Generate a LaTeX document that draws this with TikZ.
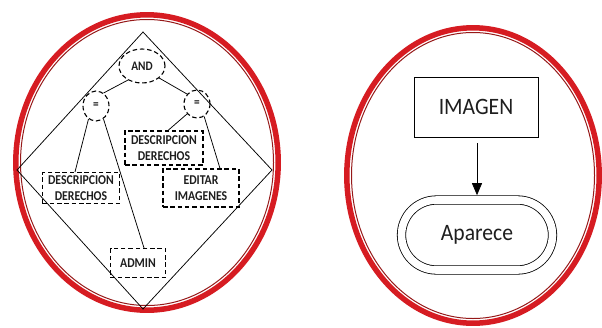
\documentclass[tikz,border=0pt]{standalone}
\usepackage{fontspec}
\setmainfont{Carlito}
\newfontfamily\condfont[FakeStretch=0.87]{Carlito}
\newfontfamily\bigfont[FakeStretch=0.92]{Carlito}
\usetikzlibrary{shapes.geometric,shapes.misc,arrows.meta}
\definecolor{ringred}{RGB}{214,28,34}
\definecolor{ringdark}{RGB}{150,25,25}
\definecolor{ink}{RGB}{30,30,30}
\begin{document}
\begin{tikzpicture}[x=1pt,y=-1pt,
  ringthick/.style={draw=ringred,line width=5.5pt},
  ringthin/.style={draw=ringdark,line width=1pt},
  dsh/.style={dash pattern=on 4.5pt off 2.8pt,line width=1.1pt},
  opnode/.style={draw,ellipse,dsh,inner sep=0pt,text=ink,font=\condfont\bfseries\fontsize{13}{15}\selectfont},
  leafbox/.style={draw,rectangle,dsh,inner sep=0pt,align=center,text=ink,font=\condfont\bfseries\fontsize{13.5}{15.5}\selectfont},
  link/.style={line width=0.75pt},
  bigtext/.style={text=ink,font=\bigfont\fontsize{23.5}{27}\selectfont}
]
\useasboundingbox (0,0) rectangle (602,327);
% rings
\draw[ringthick] (147,162.5) ellipse [x radius=131.2, y radius=147.7];
\draw[ringthin] (147,162.5) ellipse [x radius=126.5, y radius=143];
\draw[ringthick] (473,175.5) ellipse [x radius=126.2, y radius=147.7];
\draw[ringthin] (473,175.5) ellipse [x radius=121.5, y radius=143];
% diamond
\draw[link] (143,32) -- (272,170) -- (143,309) -- (17,170) -- cycle;
% tree nodes
\node[opnode,minimum width=46pt,minimum height=34pt] (and) at (142,66) {AND};
\node[opnode,minimum width=26pt,minimum height=30pt] (eqL) at (96,106) {=};
\node[opnode,minimum width=26pt,minimum height=28pt] (eqR) at (197,104) {=};
\node[leafbox,minimum width=78pt,minimum height=34pt] (descR) at (164,148) {DESCRIPCION\\DERECHOS};
\node[leafbox,minimum width=77pt,minimum height=31pt] (descL) at (81,188) {DESCRIPCION\\DERECHOS};
\node[leafbox,minimum width=76pt,minimum height=38pt] (edit) at (201,188) {EDITAR\\IMAGENES};
\node[leafbox,minimum width=55pt,minimum height=29pt] (admin) at (138,263) {ADMIN};
% tree links
\draw[link] (and.225) -- (eqL.60);
\draw[link] (and.-35) -- (eqR.135);
\draw[link] (eqL.240) -- ([xshift=-6pt]descL.north);
\draw[link] (eqL.-60) -- ([xshift=6pt]admin.north);
\draw[link] (eqR.225) -- ([xshift=4pt]descR.north);
\draw[link] (eqR.-60) -- ([xshift=19pt]edit.north);
% right diagram
\node[draw,rectangle,line width=0.8pt,minimum width=124pt,minimum height=60pt,inner sep=0pt,bigtext] (imagen) at (476,107) {IMAGEN};
\node[draw,rounded rectangle,double,line width=0.8pt,double distance=7.6pt,minimum width=151pt,minimum height=70pt,inner sep=0pt,bigtext] (aparece) at (477,235) {Aparece};
\draw[line width=0.8pt,-{Triangle[width=10pt,length=12pt]},shorten <=6pt] (imagen.south -| aparece.north) -- ([yshift=4.4pt]aparece.north);
\end{tikzpicture}
\end{document}
